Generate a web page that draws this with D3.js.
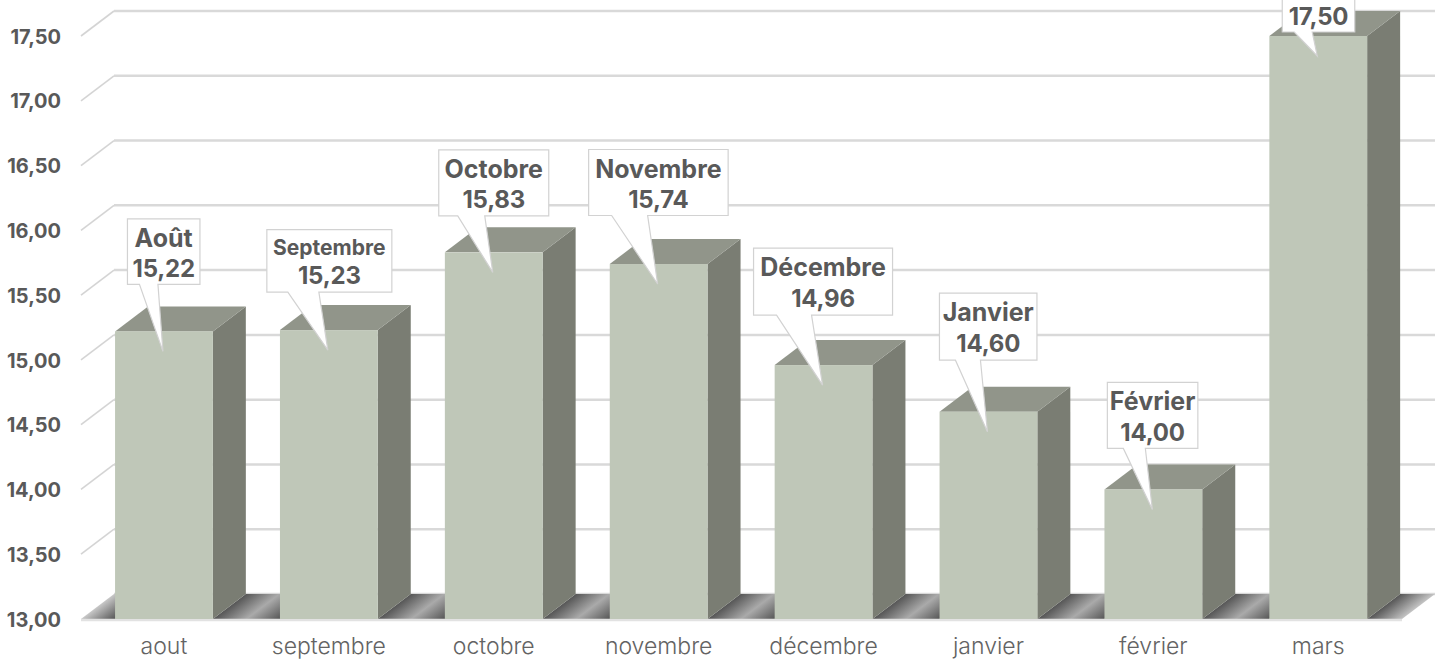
<!DOCTYPE html>
<html><head><meta charset="utf-8">
<style>html,body{margin:0;padding:0;background:#fff;overflow:hidden}svg{display:block}
text{font-family:Inter,"Open Sans",sans-serif;fill:#595959}</style>
<script src="https://cdnjs.cloudflare.com/ajax/libs/d3/7.9.0/d3.min.js"></script>
</head><body><svg id="c" width="1443" height="659"></svg>
<script>
const categories=["aout","septembre","octobre","novembre","décembre","janvier","février","mars"];
const calloutNames=["Août","Septembre","Octobre","Novembre","Décembre","Janvier","Février","Mars"];
const values=[15.22,15.23,15.83,15.74,14.96,14.60,14.00,17.50];
const yTicks=[13,13.5,14,14.5,15,15.5,16,16.5,17,17.5];
// callout layout relative to the pointer tip: left, top, width, height, base start, base end
const calloutLayout=[
[-35.5,-132.5,72.5,65.5,-23.5,-5],[-61,-120.5,125,62.5,-40,-9],[-54,-122.5,110,66,-35,-8],
[-69,-134.5,139.5,66,-46,-10],[-69,-137,139,67,-46,-11],[-48,-138.5,97.5,67,-32,-7],
[-45,-127,90.5,66,-29,-7],[-35,-90,72.5,66,-23,-5]];

const fmt=v=>v.toFixed(2).replace(".",",");
const depthX=33,depthY=-25;
const svg=d3.select("#c"),defs=svg.append("defs");
const y=d3.scaleLinear().domain([13,17.5]).range([619,36]);
const x=d3.scaleBand().domain(categories).range([81.5,1400.7]).paddingInner(.407).paddingOuter(.2035);
const bw=x.bandwidth(),baseY=y(13),left=81,right=1402;

// back gridlines + left wall diagonals
const grid=svg.append("g");
grid.selectAll(".g").data(yTicks.slice(1).concat(13)).join("line")
 .attr("x1",left+depthX).attr("x2",right+depthX).attr("y1",d=>y(d)+depthY).attr("y2",d=>y(d)+depthY)
 .attr("stroke","#d9d9d9").attr("stroke-width",2.5);
grid.selectAll(".d").data(yTicks.slice(1)).join("line")
 .attr("x1",left).attr("y1",d=>y(d)).attr("x2",left+depthX).attr("y2",d=>y(d)+depthY)
 .attr("stroke","#d4d4d4").attr("stroke-width",1.6);

// floor pieces
const nx=25/41.4,ny=33/41.4;
function floorGrad(id,x0,x1,stops){
 const L=(x1-x0)*nx;
 const g=defs.append("linearGradient").attr("id",id).attr("gradientUnits","userSpaceOnUse")
  .attr("x1",x0).attr("y1",baseY).attr("x2",x0+nx*L).attr("y2",baseY+ny*L);
 stops.forEach(s=>g.append("stop").attr("offset",s[0]).attr("stop-color",s[1]));
}
const dark="#565656",light="#aaaaaa";
const edges=[left].concat(categories.map(c=>x(c)+bw));
edges.forEach((e,i)=>{
 const first=i===0,last=i===categories.length;
 const next=first?x(categories[0]):last?right:x(categories[i]);
 const id="fl"+i;
 floorGrad(id,e,next,first?[[0,"#c8c8c8"],[1,dark]]:last?[[0,dark],[1,"#c4c4c4"]]:[[0,dark],[.5,light],[1,dark]]);
 svg.append("path").attr("fill",`url(#${id})`)
  .attr("d",d3.line()([[e,baseY],[e+depthX,baseY+depthY],[next+depthX,baseY+depthY],[next,baseY]])+"Z");
});
// front baseline
svg.append("line").attr("x1",left).attr("x2",right).attr("y1",baseY+1).attr("y2",baseY+1)
 .attr("stroke","#e2e2e2").attr("stroke-width",2.5);

// bars
const bars=svg.append("g").selectAll("g").data(categories).join("g");
bars.append("path").attr("fill","#7a7d73").attr("d",(c,i)=>{const r=x(c)+bw,t=y(values[i]);
 return d3.line()([[r,t],[r+depthX,t+depthY],[r+depthX,baseY+depthY],[r,baseY]])+"Z";});
bars.append("path").attr("fill","#91958a").attr("d",(c,i)=>{const l=x(c),t=y(values[i]);
 return d3.line()([[l,t],[l+depthX,t+depthY],[l+bw+depthX,t+depthY],[l+bw,t]])+"Z";});
bars.append("rect").attr("fill","#bfc7b8").attr("x",c=>x(c)).attr("width",bw)
 .attr("y",(c,i)=>y(values[i])).attr("height",(c,i)=>baseY-y(values[i]));

// axes
const axL=svg.append("g").attr("transform","translate(61,0)")
 .call(d3.axisLeft(y).tickValues(yTicks).tickFormat(fmt).tickSize(0).tickPadding(0));
axL.select(".domain").remove();
axL.selectAll("text").attr("font-size",20).attr("font-weight",700).style("font-family","Inter").style("fill","#595959").attr("dy","0.36em");
const axB=svg.append("g").attr("transform","translate(0,654)")
 .call(d3.axisBottom(x).tickSize(0).tickPadding(0));
axB.select(".domain").remove();
axB.selectAll("text").attr("font-size",23).attr("font-weight",300).style("font-family","Inter").style("fill","#636363").attr("y",0).attr("dy",0);

// callouts
const co=svg.append("g").selectAll("g").data(categories).join("g");
co.each(function(c,i){
 const tx=x(c)+bw/2-1,ty=y(values[i])+20,[l,t,w,h,b1,b2]=calloutLayout[i];
 const L=tx+l,T=ty+t,B=T+h,R=L+w,g=d3.select(this);
 g.append("path").attr("fill","#fff").attr("stroke","#d2d2d2").attr("stroke-width",1.2)
  .attr("d",d3.line()([[L,T],[R,T],[R,B],[tx+b2,B],[tx,ty],[tx+b1,B],[L,B]])+"Z");
 const small=calloutNames[i]==="Septembre";
 g.append("text").attr("x",L+w/2).attr("y",T+(small?25.5:28)).attr("text-anchor","middle")
  .attr("font-weight",700).attr("font-size",small?21:25).text(calloutNames[i]);
 g.append("text").attr("x",L+w/2).attr("y",T+(small?54:58.5)).attr("text-anchor","middle")
  .attr("font-weight",700).attr("font-size",24).attr("letter-spacing",-.2).text(fmt(values[i]));
});
</script></body></html>
